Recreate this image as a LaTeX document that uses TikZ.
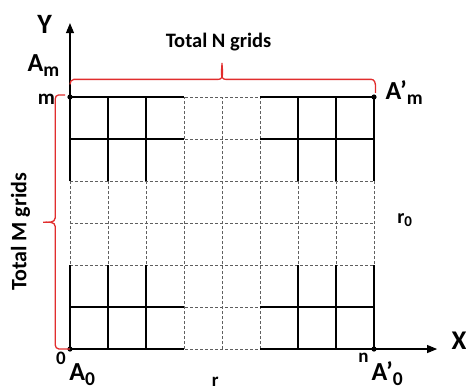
\documentclass[tikz,border=0pt]{standalone}
\usepackage{fontspec}
\setmainfont{Carlito}
\usetikzlibrary{arrows.meta}
\definecolor{bracered}{RGB}{225,45,45}
\definecolor{gridgray}{RGB}{95,95,95}
\newcommand{\lsub}[1]{\raisebox{-.18em}{\scalebox{.75}{#1}}}
\newcommand{\fs}[1]{\fontsize{#1}{#1}\selectfont\bfseries}
\begin{document}
\begin{tikzpicture}[x=38pt,y=42pt,
  grd/.style={gridgray,line width=.9pt,dash pattern=on 2.6pt off 2.4pt},
  blk/.style={black,line width=1.8pt},
  axis/.style={black,line width=1.1pt,-{Triangle[length=10pt,width=8pt]}},
  brc/.style={bracered,line width=1.3pt},
  lbl/.style={inner sep=0pt}]
\useasboundingbox (-1.842,-1) rectangle (10.421,8.31);
\coordinate (A0) at (0,0); \coordinate (Am) at (0,6);
\coordinate (An) at (8,0); \coordinate (Amn) at (8,6);
\coordinate (ytip) at (0,7.76); \coordinate (xtip) at (9.66,0);
\draw[grd,step=1] (0,0) grid (8,6);
\draw[blk] (0,6)--(3,6) (0,5)--(3,5) (5,6)--(8,6) (5,5)--(8,5)
  (0,1)--(3,1) (0,0)--(3,0) (5,1)--(8,1) (5,0)--(8,0);
\draw[blk] (0,4)--(0,6) (1,4)--(1,6) (2,4)--(2,6) (6,4)--(6,6) (7,4)--(7,6) (8,4)--(8,6)
  (0,0)--(0,2) (1,0)--(1,2) (2,0)--(2,2) (6,0)--(6,2) (7,0)--(7,2) (8,0)--(8,2);
\draw[axis] (Am) -- (ytip); \draw[axis] (An) -- (xtip);
\fill (A0) circle (2.6pt) (Am) circle (2.6pt) (An) circle (2.6pt) (Amn) circle (2.6pt);
\draw[brc] (0,6.3) to[out=90,in=180] (0.1,6.42) -- (3.9,6.42) to[out=0,in=-90] (4,6.81)
  to[out=-90,in=180] (4.1,6.42) -- (7.93,6.42) to[out=0,in=90] (8.04,6.25) -- (8.04,6.1);
\draw[brc] (-0.13,6.05) -- (-0.3,6.05) to[out=180,in=90] (-0.39,5.95) -- (-0.39,3.12)
  to[out=-90,in=0] (-0.71,3.02) to[out=0,in=90] (-0.39,2.92) -- (-0.39,0.1)
  to[out=-90,in=180] (-0.29,0) -- (A0);
\node[lbl] (ylab) at (-0.67,7.74) {\fs{28}Y};
\node[lbl] (xlab) at (10.24,0.19) {\fs{27}X};
\node[lbl,anchor=base] (amlab) at (-0.7,6.6) {\fs{26}A\lsub{m}};
\node[lbl,anchor=base] (mlab) at (-0.62,5.83) {\fs{21}m};
\node[lbl,anchor=base] (ntot) at (3.91,7.19) {\fs{20.5}Total N grids};
\node[lbl,rotate=90] (mtot) at (-1.3,2.79) {\fs{22}Total M grids};
\node[lbl,anchor=base west] (amnlab) at (8.3,5.93) {\fs{26}A’\lsub{m}};
\node[lbl,anchor=base west] (r0lab) at (8.61,3.0) {\fs{20}r\lsub{0}};
\node[lbl,anchor=base] (nlab) at (7.72,-0.32) {\fs{19}n};
\node[lbl,anchor=base west] (an0lab) at (7.93,-0.76) {\fs{26}A’\lsub{0}};
\node[lbl,anchor=base] (zlab) at (-0.24,-0.38) {\fs{19}0};
\node[lbl,anchor=base west] (a0lab) at (-0.02,-0.76) {\fs{26}A\lsub{0}};
\node[lbl,anchor=base] (rlab) at (3.82,-0.9) {\fs{19}r};
\end{tikzpicture}
\end{document}
